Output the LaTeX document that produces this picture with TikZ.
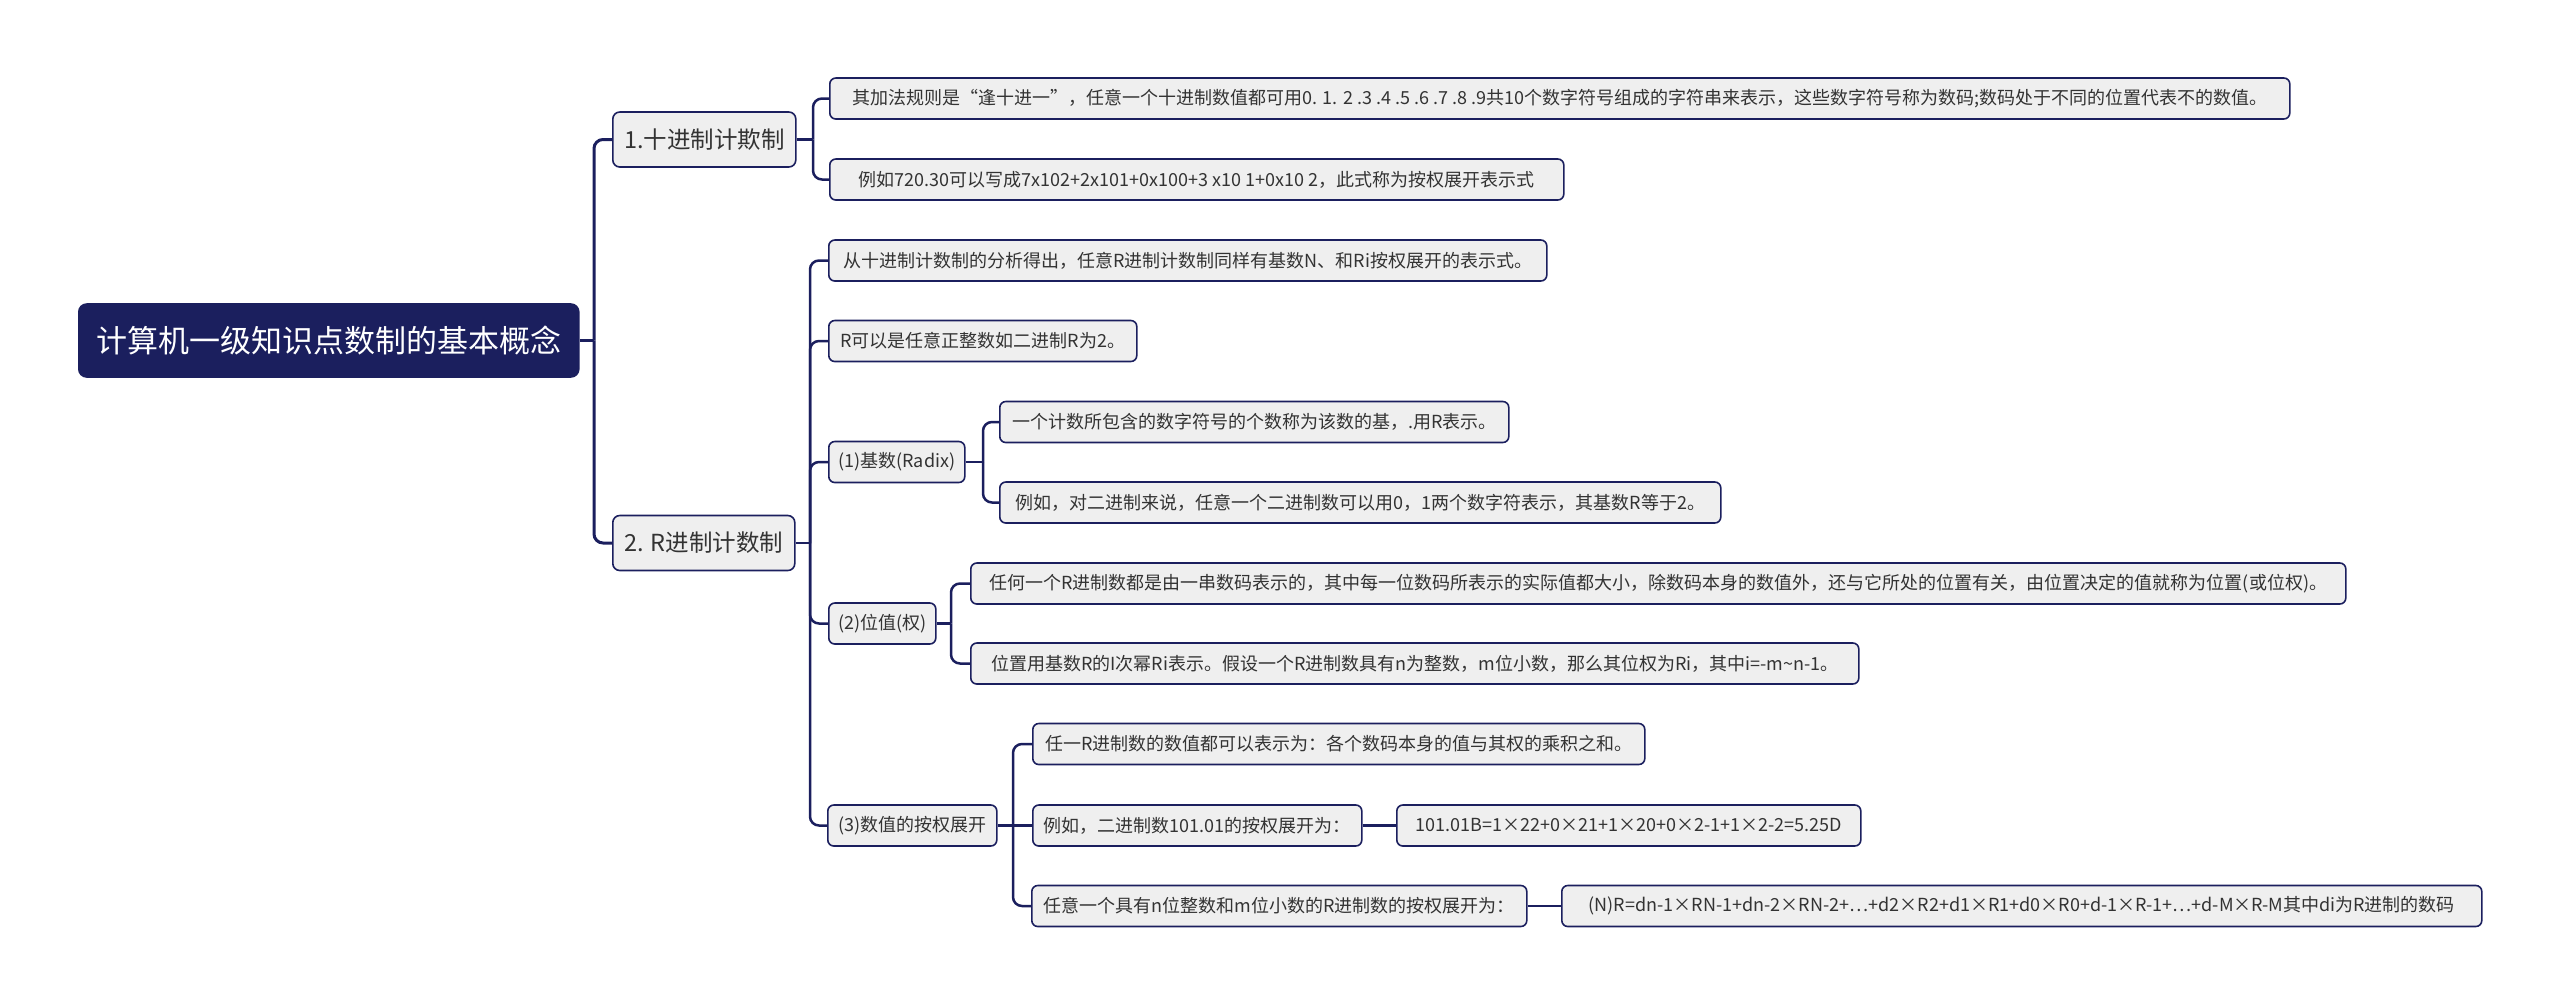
\documentclass[tikz,border=0pt]{standalone}
\usepackage{fontspec}
\setmainfont{Noto Sans CJK SC}
\definecolor{navy}{RGB}{27,31,94}
\definecolor{leafgray}{RGB}{239,239,239}
\definecolor{txt}{RGB}{51,51,51}
\tikzset{
  conn/.style={draw=navy, line width=2.5, rounded corners=9},
  box/.style={draw=navy, fill=leafgray, line width=1.6, rounded corners=6,
    text=txt, anchor=west, inner xsep=0, inner ysep=0, minimum height=41,
    font=\fontsize{18}{22}\selectfont},
  topic/.style={box, minimum height=55, rounded corners=7,
    font=\fontsize{23.5}{28}\selectfont},
  rootbox/.style={box, fill=navy, text=white, minimum height=73, rounded corners=8,
    font=\fontsize{31}{36}\selectfont}
}
\begin{document}
\begin{tikzpicture}[x=1pt, y=-1pt]
        \useasboundingbox (0,0) rectangle (2560,1005);

        %root
        \node[rootbox, minimum width=500] (root) at (78,340.5) {计算机一级知识点数制的基本概念};
        \node[topic, minimum width=183] (n1) at (612,139.5) {1.十进制计欺制};
        \node[topic, minimum width=182] (n2) at (612,543) {2. R进制计数制};

        %1. decimale
        \node[box, minimum width=1460] (a1) at (829,98.5) {其加法规则是“逢十进一”，任意一个十进制数值都可用0. 1. 2 .3 .4 .5 .6 .7 .8 .9共10个数字符号组成的字符串来表示，这些数字符号称为数码;数码处于不同的位置代表不的数值。};
        \node[box, minimum width=734] (a2) at (829,179.5) {例如720.30可以写成7x102+2x101+0x100+3 x10 1+0x10 2，此式称为按权展开表示式};

        %2. R
        \node[box, minimum width=718] (b1) at (828,260.5) {从十进制计数制的分析得出，任意R进制计数制同样有基数N、和Ri按权展开的表示式。};
        \node[box, minimum width=308] (b2) at (828,341) {R可以是任意正整数如二进制R为2。};
        \node[box, minimum width=136] (b3) at (828,462) {(1)基数(Radix)};
        \node[box, minimum width=107] (b4) at (828,623.5) {(2)位值(权)};
        \node[box, minimum width=169] (b5) at (827,825.5) {(3)数值的按权展开};

        %base
        \node[box, minimum width=509] (c1) at (999,422) {一个计数所包含的数字符号的个数称为该数的基，.用R表示。};
        \node[box, minimum width=721] (c2) at (999,502.5) {例如，对二进制来说，任意一个二进制数可以用0，1两个数字符表示，其基数R等于2。};

        %peso
        \node[box, minimum width=1375] (d1) at (970,583.5) {任何一个R进制数都是由一串数码表示的，其中每一位数码所表示的实际值都大小，除数码本身的数值外，还与它所处的位置有关，由位置决定的值就称为位置(或位权)。};
        \node[box, minimum width=888] (d2) at (970,663.5) {位置用基数R的I次幂Ri表示。假设一个R进制数具有n为整数，m位小数，那么其位权为Ri，其中i=-m\textasciitilde n-1。};

        %espansione
        \node[box, minimum width=612] (e1) at (1032,744) {任一R进制数的数值都可以表示为：各个数码本身的值与其权的乘积之和。};
        \node[box, minimum width=329] (e2) at (1032,825.5) {例如，二进制数101.01的按权展开为：};
        \node[box, minimum width=495] (e3) at (1031,906) {任意一个具有n位整数和m位小数的R进制数的按权展开为：};
        \node[box, minimum width=464] (f1) at (1396,825.5) {101.01B=1×22+0×21+1×20+0×2-1+1×2-2=5.25D};
        \node[box, minimum width=920] (f2) at (1561,906) {(N)R=dn-1×RN-1+dn-2×RN-2+…+d2×R2+d1×R1+d0×R0+d-1×R-1+…+d-M×R-M其中di为R进制的数码};

        %rami
        \draw[navy, line width=3] (root.east) -- (594,340.5) coordinate (t0);
        \draw[conn, line width=3] (t0) |- (n1.west);
        \draw[conn, line width=3] (t0) |- (n2.west);

        \draw[conn] (n1.east) -- (813,139.5) coordinate (t1);
        \draw[conn] (t1) |- (a1.west);
        \draw[conn] (t1) |- (a2.west);

        \draw[conn] (n2.east) -- (810,543) coordinate (t2);
        \foreach \k in {b1,b2,b3,b4,b5}
          \draw[conn] (t2) |- (\k.west);

        \draw[conn] (b3.east) -- (983,462) coordinate (t3);
        \draw[conn] (t3) |- (c1.west);
        \draw[conn] (t3) |- (c2.west);

        \draw[conn] (b4.east) -- (951,623.5) coordinate (t4);
        \draw[conn] (t4) |- (d1.west);
        \draw[conn] (t4) |- (d2.west);

        \draw[conn] (b5.east) -- (1013,825.5) coordinate (t5);
        \draw[conn] (t5) |- (e1.west);
        \draw[conn] (t5) -- (e2.west);
        \draw[conn] (t5) |- (e3.west);

        \draw[conn] (e2.east) -- (f1.west);
        \draw[conn] (e3.east) -- (f2.west);
\end{tikzpicture}
\end{document}
